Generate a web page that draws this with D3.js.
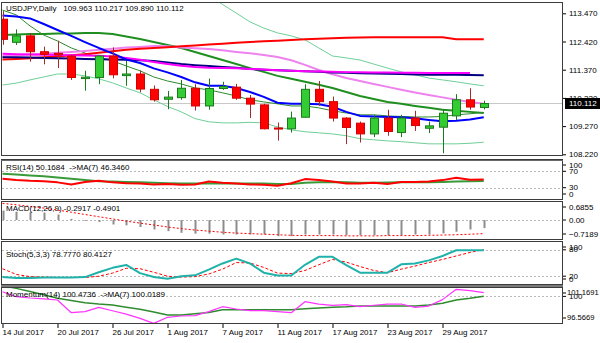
<!DOCTYPE html>
<html>
<head>
<meta charset="utf-8">
<script src="https://cdn.jsdelivr.net/npm/d3@7"></script>
<style>
  body { margin: 0; background: #fff; }
  svg { display: block; }
</style>
</head>
<body>
<svg id="chart" width="600" height="343"></svg>
<script>
// ---- USDJPY daily bars ----
const dates = ["2017-07-14","2017-07-17","2017-07-18","2017-07-19","2017-07-20","2017-07-21","2017-07-24","2017-07-25","2017-07-26","2017-07-27","2017-07-28","2017-07-31","2017-08-01","2017-08-02","2017-08-03","2017-08-04","2017-08-07","2017-08-08","2017-08-09","2017-08-10","2017-08-11","2017-08-14","2017-08-15","2017-08-16","2017-08-17","2017-08-18","2017-08-21","2017-08-22","2017-08-23","2017-08-24","2017-08-25","2017-08-28","2017-08-29","2017-08-30","2017-08-31","2017-09-01"];
const open  = [113.25,112.39,112.63,112.04,111.98,111.88,111.04,111.08,111.88,111.15,111.21,110.64,110.27,110.33,110.68,110.02,110.67,110.72,110.31,110.06,109.20,109.17,109.60,110.64,110.18,109.57,109.38,108.98,109.57,109.03,109.57,109.19,109.23,109.65,110.25,109.963];
const high  = [113.55,112.87,112.73,112.23,112.45,111.92,111.33,111.92,112.20,111.70,111.34,110.78,110.58,110.99,110.83,111.04,110.92,110.84,110.43,110.10,109.40,109.81,110.83,110.95,110.37,109.60,109.44,109.69,109.88,109.69,109.84,109.44,109.91,110.46,110.68,110.217];
const low   = [112.30,112.29,111.67,111.57,111.43,110.99,110.59,110.83,111.05,110.77,110.53,110.18,109.90,110.25,109.85,109.88,110.62,110.25,109.57,109.15,108.73,109.03,109.59,110.02,109.44,108.60,108.66,108.86,108.91,108.86,109.09,109.01,108.26,109.50,109.88,109.890];
const close = [112.50,112.63,112.04,111.94,111.92,111.08,111.09,111.88,111.18,111.21,110.65,110.25,110.35,110.68,110.02,110.67,110.74,110.31,110.09,109.17,109.16,109.57,110.64,110.18,109.57,109.22,108.98,109.57,109.07,109.57,109.29,109.28,109.75,110.25,109.98,110.112];

// ---- moving averages and bands on the price chart ----
const maRed     = [111.75,111.77,111.80,111.83,111.86,111.91,111.95,112.00,112.06,112.11,112.15,112.18,112.21,112.24,112.27,112.31,112.34,112.37,112.40,112.43,112.45,112.48,112.50,112.52,112.54,112.56,112.57,112.58,112.58,112.58,112.58,112.58,112.58,112.50,112.50,112.50];
const maNavy    = [111.83,111.83,111.82,111.81,111.80,111.79,111.77,111.76,111.75,111.74,111.72,111.69,111.64,111.58,111.54,111.51,111.47,111.44,111.40,111.37,111.35,111.33,111.31,111.29,111.27,111.26,111.24,111.23,111.22,111.21,111.19,111.18,111.18,111.18,111.17,111.16];
const maMagenta = [111.96,111.95,111.94,111.93,111.92,111.91,111.90,111.89,111.86,111.81,111.74,111.66,111.58,111.52,111.47,111.44,111.43,111.42,111.40,111.38,111.35,111.33,111.31,111.30,111.29,111.28,111.28,111.27,111.27,111.26,111.26,111.25,111.25,111.25,111.25];
const maViolet  = [111.88,111.91,111.94,111.96,112.00,112.03,112.07,112.11,112.15,112.20,112.22,112.25,112.24,112.20,112.17,112.14,112.09,112.03,111.98,111.92,111.84,111.72,111.55,111.36,111.20,111.06,110.95,110.84,110.73,110.62,110.52,110.43,110.34,110.25,110.17,110.10];
const maBlue    = [113.39,113.35,113.28,113.07,112.85,112.63,112.40,112.18,111.98,111.75,111.62,111.42,111.27,111.10,110.90,110.77,110.77,110.69,110.54,110.36,110.14,110.10,110.10,110.08,109.99,109.80,109.65,109.63,109.61,109.60,109.56,109.50,109.45,109.47,109.52,109.60];
const maGreen   = [113.59,113.41,113.00,112.66,112.44,112.18,111.99,111.83,111.70,111.51,111.33,111.10,110.95,110.84,110.69,110.62,110.51,110.39,110.25,110.17,110.10,110.02,110.02,109.95,109.84,109.76,109.69,109.69,109.65,109.63,109.61,109.61,109.63,109.69,109.73,109.78];
const bbMiddle  = [112.66,112.68,112.70,112.70,112.72,112.72,112.74,112.74,112.70,112.61,112.51,112.40,112.29,112.18,112.03,111.88,111.73,111.58,111.43,111.29,111.14,111.03,110.92,110.81,110.69,110.54,110.39,110.28,110.17,110.10,110.02,109.95,109.88,109.84,109.80,109.76];
const bbUpper   = [114.50,114.50,114.40,114.30,114.20,114.20,114.30,114.45,114.50,114.50,114.50,114.50,114.50,114.50,114.45,114.15,113.80,113.48,113.15,112.92,112.74,112.63,112.48,112.18,111.88,111.81,111.73,111.58,111.43,111.29,111.18,111.06,110.99,110.92,110.84,110.77];
const bbLower   = [110.80,110.87,110.99,111.10,111.21,111.21,111.14,111.03,110.88,110.69,110.51,110.25,110.00,109.80,109.55,109.43,109.39,109.39,109.41,109.39,109.24,109.13,109.06,109.02,108.98,108.91,108.80,108.76,108.72,108.69,108.65,108.61,108.61,108.61,108.63,108.67];
const priceTicks = [108.22,109.27,110.32,111.37,112.42,113.47];

// ---- RSI(14) with MA(7) ----
const rsi   = [52,49,47,46,43,38,44,47,43,41,40,38,39,37,38,45,42,40,38,37,35,41,51,49,45,40.5,40,42,39,44,44,45,48.5,54,49.5,50.1684];
const rsiMa = [64,62,60,58,55,52,49,46,45,44,43,42,41,40,40,40,40,40.5,40,40,39,39,42,43,44,43,42,42,42.5,43,43,43.5,44,45,46,46.346];
const rsiTicks = [100,70,30,0];
const rsiLevels = [70,30];

// ---- MACD(12,26,9) ----
const macdMain   = [0.34,0.30,0.28,0.27,0.20,0.04,-0.03,-0.07,-0.16,-0.19,-0.25,-0.34,-0.40,-0.46,-0.49,-0.49,-0.52,-0.52,-0.52,-0.52,-0.58,-0.58,-0.52,-0.52,-0.52,-0.55,-0.55,-0.55,-0.55,-0.55,-0.52,-0.52,-0.48,-0.42,-0.34,-0.2917];
const macdSignal = [0.60,0.55,0.49,0.43,0.36,0.28,0.20,0.12,0.04,-0.04,-0.11,-0.18,-0.25,-0.31,-0.36,-0.40,-0.44,-0.47,-0.49,-0.51,-0.53,-0.55,-0.56,-0.56,-0.56,-0.57,-0.57,-0.57,-0.56,-0.56,-0.56,-0.55,-0.54,-0.53,-0.51,-0.4901];
const macdTicks = [0.6855,0,-0.7189];

// ---- Stochastic(5,3,3) ----
const stochMain   = [18,16,16,17,17,17,18,29,39,45.5,27,18,14,20,22,35,49,60,49,28,21.5,21.5,46,64,64,45,28,28,28,47,49,56,66,79,79,78.777];
const stochSignal = [37,24,19,18,17,17,17,20,27,38,37,29,20,18,19,25,36,51,50,40,27,26,33,46,58,52,42,33,28,36,43,51,58,66,74,80.4127];
const stochTicks = [100,80,20,0];
const stochLevels = [80,20];

// ---- Momentum(14) with MA(7) ----
const momentum   = [100.58,99.96,99.80,99.70,99.55,97.97,98.10,98.64,98.22,97.80,97.27,96.65,97.40,97.56,97.60,98.10,98.72,98.43,98.22,98.22,98.10,97.97,99.34,99.05,98.89,98.97,98.72,98.90,99.05,99.05,98.64,98.80,99.60,100.88,100.71,100.4736];
const momentumMa = [101.30,101.00,100.60,100.20,99.76,99.50,99.22,99.05,98.93,98.65,98.40,98.05,97.69,97.69,97.85,98.00,98.33,98.33,98.33,98.33,98.33,98.33,98.45,98.55,98.64,98.70,98.80,98.80,98.80,98.80,98.80,98.93,99.14,99.55,99.76,100.0189];
const momTicks = [101.1691,100,96.5669];
const momLevels = [100];

// ---------------------------------------------------------------
const FONT = '"Liberation Sans", Arial, sans-serif';
const svg = d3.select("#chart");
const plotLeft = 2, plotRight = 563;

const parseDate = d3.timeParse("%Y-%m-%d");
const fmtDate = d3.timeFormat("%-d %b %Y");
const x = d3.scalePoint().domain(dates).range([2.5, 483.75]);

const panels = {
  main:  {top: 2,   bottom: 156, domain: [108.157, 113.891]},
  rsi:   {top: 159, bottom: 200, domain: [0, 100]},
  macd:  {top: 201, bottom: 240, domain: [-0.7189, 0.6855]},
  stoch: {top: 241, bottom: 285, domain: [0, 100]},
  mom:   {top: 287, bottom: 324, domain: [96.5669, 101.1691]}
};
Object.entries(panels).forEach(([k, p]) => {
  p.y = d3.scaleLinear().domain(p.domain).range([p.bottom, p.top]);
  svg.append("clipPath").attr("id", "clip-" + k)
    .append("rect").attr("x", plotLeft).attr("y", p.top)
    .attr("width", plotRight - plotLeft).attr("height", p.bottom - p.top);
  p.g = svg.append("g").attr("clip-path", `url(#clip-${k})`);
});

const lineFor = (y) => d3.line().x((d, i) => x(dates[i])).y(d => y(d));

function drawLine(p, values, color, width, dash) {
  p.g.append("path").datum(values)
    .attr("fill", "none").attr("stroke", color).attr("stroke-width", width)
    .attr("stroke-linejoin", "round")
    .attr("stroke-dasharray", dash || null)
    .attr("d", lineFor(p.y));
}
function drawLevels(p, levels) {
  p.g.selectAll(null).data(levels).join("line")
    .attr("x1", plotLeft).attr("x2", plotRight)
    .attr("y1", d => Math.round(p.y(d)) + 0.5).attr("y2", d => Math.round(p.y(d)) + 0.5)
    .attr("stroke", "#b8b8b8").attr("stroke-dasharray", "2,2");
}
function label(p, text, baseline) {
  svg.append("text").attr("x", 6).attr("y", baseline)
    .attr("font-family", FONT).attr("font-size", 8).attr("fill", "#000")
    .style("white-space", "pre").text(text);
}
function rightAxis(p, ticks, fmt, clamp) {
  const g = svg.append("g").attr("transform", `translate(${plotRight},0)`)
    .call(d3.axisRight(p.y).tickValues(ticks).tickSize(3).tickPadding(3).tickFormat(fmt));
  g.select(".domain").remove();
  g.attr("font-family", FONT).attr("font-size", 8);
  g.selectAll("text").attr("fill", "#000");
  g.selectAll("line").attr("stroke", "#000");
  if (clamp) {
    g.selectAll(".tick").attr("transform", d => {
      const yy = Math.max(p.top + 6, Math.min(p.bottom - 6, p.y(d)));
      return `translate(0,${yy})`;
    });
  }
  return g;
}

// ---- main price panel ----
const M = panels.main;
const lastClose = close[close.length - 1];
M.g.append("line").attr("x1", plotLeft).attr("x2", plotRight)
  .attr("y1", Math.round(M.y(lastClose)) + 0.5).attr("y2", Math.round(M.y(lastClose)) + 0.5)
  .attr("stroke", "#c8c8c8");

drawLine(M, bbUpper, "#6fcf98", 1);
drawLine(M, bbLower, "#6fcf98", 1);
drawLine(M, bbMiddle, "#1f8f1f", 2);
drawLine(M, maGreen, "#2e8b2e", 1);
drawLine(M, maViolet, "#ee82ee", 2);
drawLine(M, maRed, "#ff0000", 2);
drawLine(M, maNavy, "#000080", 2);
drawLine(M, maMagenta, "#ff00ff", 2);
drawLine(M, maBlue, "#0000ff", 2);

// candles
const candles = M.g.append("g");
dates.forEach((d, i) => {
  const cx = Math.round(x(d));
  const up = close[i] >= open[i];
  const wickColor = up ? "#1b7a1b" : "#a52a2a";
  candles.append("line")
    .attr("x1", cx + 0.5).attr("x2", cx + 0.5)
    .attr("y1", M.y(high[i])).attr("y2", M.y(low[i]))
    .attr("stroke", wickColor).attr("stroke-width", 1);
  const yTop = M.y(Math.max(open[i], close[i]));
  const yBot = M.y(Math.min(open[i], close[i]));
  candles.append("rect")
    .attr("x", cx - 3.5).attr("width", 8)
    .attr("y", yTop).attr("height", Math.max(1, yBot - yTop))
    .attr("fill", up ? "#33cc33" : "#ff0000")
    .attr("stroke", up ? "#1b7a1b" : "#d40000").attr("stroke-width", 1);
});

label(M, "USDJPY,Daily   109.963 110.217 109.890 110.112", 11);
rightAxis(M, priceTicks, d3.format(".3f"), false);

// last price tag
const tagY = M.y(lastClose);
svg.append("rect").attr("x", 565).attr("y", tagY - 5.5).attr("width", 35).attr("height", 11).attr("fill", "#000");
svg.append("text").attr("x", 569).attr("y", tagY + 3)
  .attr("font-family", FONT).attr("font-size", 8).attr("fill", "#fff")
  .text(d3.format(".3f")(lastClose));

// ---- RSI ----
const R = panels.rsi;
label(R, "RSI(14) 50.1684  ->MA(7) 46.3460", 169.5);
drawLevels(R, rsiLevels);
drawLine(R, rsiMa, "#3a9a3a", 2);
drawLine(R, rsi, "#ff0000", 2);
rightAxis(R, rsiTicks, d3.format("d"), true);

// ---- MACD ----
const C = panels.macd;
label(C, "MACD(12,26,9) -0.2917 -0.4901", 211);
drawLevels(C, [0]);
C.g.selectAll(null).data(macdMain).join("line")
  .attr("x1", (d, i) => Math.round(x(dates[i])) + 0.5)
  .attr("x2", (d, i) => Math.round(x(dates[i])) + 0.5)
  .attr("y1", C.y(0)).attr("y2", d => C.y(d))
  .attr("stroke", "#8c8c8c").attr("stroke-width", 2);
drawLine(C, macdSignal, "#ff0000", 1, "2,2");
rightAxis(C, macdTicks, v => v === 0 ? "0.00" : d3.format(".4f")(v), true);

// ---- Stochastic ----
const S = panels.stoch;
label(S, "Stoch(5,3,3) 78.7770 80.4127", 257);
drawLevels(S, stochLevels);
drawLine(S, stochSignal, "#ff0000", 1, "3,2");
drawLine(S, stochMain, "#20b2aa", 2);
rightAxis(S, stochTicks, d3.format("d"), true);

// ---- Momentum ----
const O = panels.mom;
label(O, "Momentum(14) 100.4736  ->MA(7) 100.0189", 296.5);
drawLevels(O, momLevels);
drawLine(O, momentumMa, "#2e8b2e", 1.5);
drawLine(O, momentum, "#ff33ff", 1.2);
const momAxis = rightAxis(O, momTicks, v => v === 100 ? "100" : d3.format(".4f")(v), true);
// the widest scale label is set a touch smaller so it fits inside the window
momAxis.selectAll("text").filter(d => d !== 100).attr("font-size", 7.6).attr("x", 4);

// ---- panel frames ----
Object.values(panels).forEach(p => {
  svg.append("rect").attr("x", plotLeft - 0.5).attr("y", p.top + 0.5)
    .attr("width", plotRight - plotLeft).attr("height", p.bottom - p.top - 1)
    .attr("fill", "none").attr("stroke", "#3c3c3c");
});
svg.append("line").attr("x1", plotLeft - 1).attr("x2", plotRight).attr("y1", 160.5).attr("y2", 160.5).attr("stroke", "#6a6a6a");
svg.append("rect").attr("x", plotLeft - 1).attr("y", 285).attr("width", plotRight - plotLeft + 1).attr("height", 2).attr("fill", "#7a7a7a");

// ---- date axis ----
const dAxis = svg.append("g").attr("transform", "translate(0,324)")
  .call(d3.axisBottom(x).tickValues(dates.filter((d, i) => i % 4 === 0))
    .tickSize(4).tickFormat(d => fmtDate(parseDate(d))));
dAxis.select(".domain").remove();
dAxis.attr("font-family", FONT).attr("font-size", 8);
dAxis.selectAll("line").attr("stroke", "#000");
dAxis.selectAll("text").attr("fill", "#000").attr("text-anchor", "start")
  .attr("x", -0.5).attr("y", 11).attr("dy", 0);
</script>
</body>
</html>
